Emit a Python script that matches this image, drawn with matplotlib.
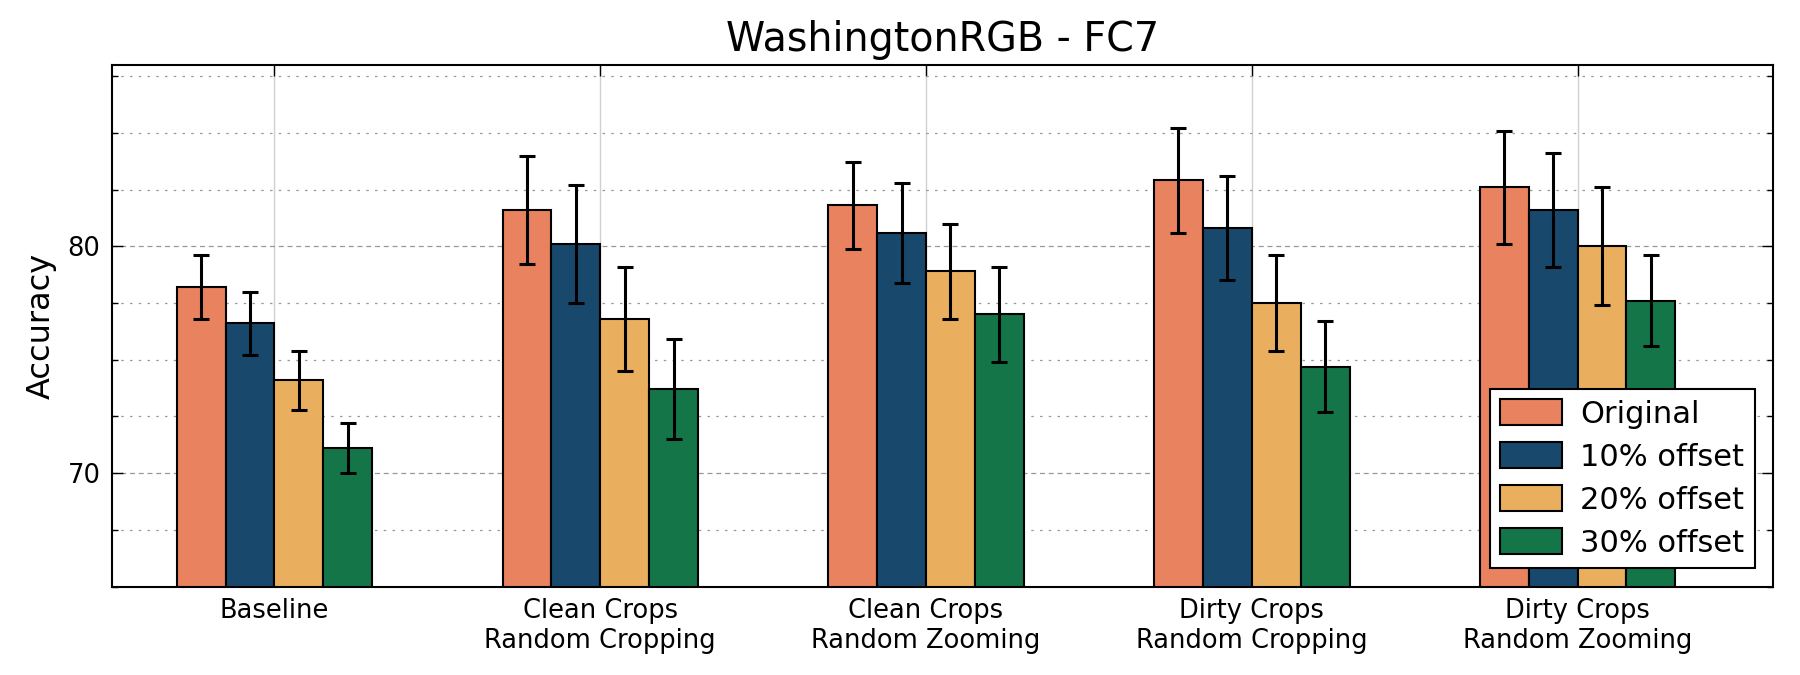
import numpy as np
import matplotlib
matplotlib.use("Agg")
import matplotlib.pyplot as plt
from matplotlib.ticker import MultipleLocator

categories = [
    "Baseline",
    "Clean Crops\nRandom Cropping",
    "Clean Crops\nRandom Zooming",
    "Dirty Crops\nRandom Cropping",
    "Dirty Crops\nRandom Zooming",
]
series_names = ["Original", "10% offset", "20% offset", "30% offset"]

original = [78.2, 81.6, 81.8, 82.9, 82.6]
offset_10 = [76.6, 80.1, 80.6, 80.8, 81.6]
offset_20 = [74.1, 76.8, 78.9, 77.5, 80.0]
offset_30 = [71.1, 73.7, 77.0, 74.7, 77.6]

original_err = [1.4, 2.4, 1.9, 2.3, 2.5]
offset_10_err = [1.4, 2.6, 2.2, 2.3, 2.5]
offset_20_err = [1.3, 2.3, 2.1, 2.1, 2.6]
offset_30_err = [1.1, 2.2, 2.1, 2.0, 2.0]

colors = ["#E9825E", "#18496C", "#EAAF5E", "#147648"]

values = [original, offset_10, offset_20, offset_30]
errors = [original_err, offset_10_err, offset_20_err, offset_30_err]

plt.rcParams["font.family"] = "DejaVu Sans"

fig = plt.figure(figsize=(18, 6.75), dpi=100)
ax = fig.add_axes([0.062, 0.131, 0.923, 0.773])

x = np.arange(len(categories))
width = 0.15
for i, (name, vals, errs, color) in enumerate(zip(series_names, values, errors, colors)):
    pos = x + (i - 1.5) * width
    ax.bar(pos, vals, width, color=color, edgecolor="black", linewidth=1.5,
           label=name, zorder=2)
    ax.errorbar(pos, vals, yerr=errs, fmt="none", ecolor="black", elinewidth=2.2,
                capsize=6, capthick=2.2, zorder=3)

ax.set_xlim(-0.5, 4.6)
ax.set_ylim(65, 88)
ax.set_xticks(x)
ax.set_xticklabels(categories, fontsize=18.5)
ax.yaxis.set_major_locator(MultipleLocator(10))
ax.yaxis.set_minor_locator(MultipleLocator(2.5))
ax.tick_params(axis="y", labelsize=18.5)
ax.tick_params(which="both", direction="in", top=True, right=True)
ax.tick_params(which="major", length=8, width=1)
ax.tick_params(which="minor", length=4, width=1)
ax.tick_params(axis="x", pad=8)
ax.tick_params(axis="y", pad=8)

ax.yaxis.grid(True, which="major", linestyle=(0, (4, 3)), color="#999999", linewidth=0.9, zorder=0)
ax.yaxis.grid(True, which="minor", linestyle=(0, (2, 5)), color="#999999", linewidth=0.9, zorder=0)
ax.xaxis.grid(True, which="major", linestyle="-", color="#d0d0d0", linewidth=1, zorder=0)
ax.set_axisbelow(True)
for spine in ax.spines.values():
    spine.set_linewidth(1.5)

ax.set_ylabel("Accuracy", fontsize=23, labelpad=8)
ax.set_title("WashingtonRGB - FC7", fontsize=28.5, pad=10)

leg = ax.legend(loc="lower right", fontsize=22, fancybox=False, framealpha=1,
                edgecolor="black", handlelength=2.0, handleheight=0.9,
                borderpad=0.35, labelspacing=0.45, handletextpad=0.6,
                borderaxespad=0.6)
leg.get_frame().set_linewidth(1.5)

fig.savefig("out.png", dpi=100)
plt.close(fig)
